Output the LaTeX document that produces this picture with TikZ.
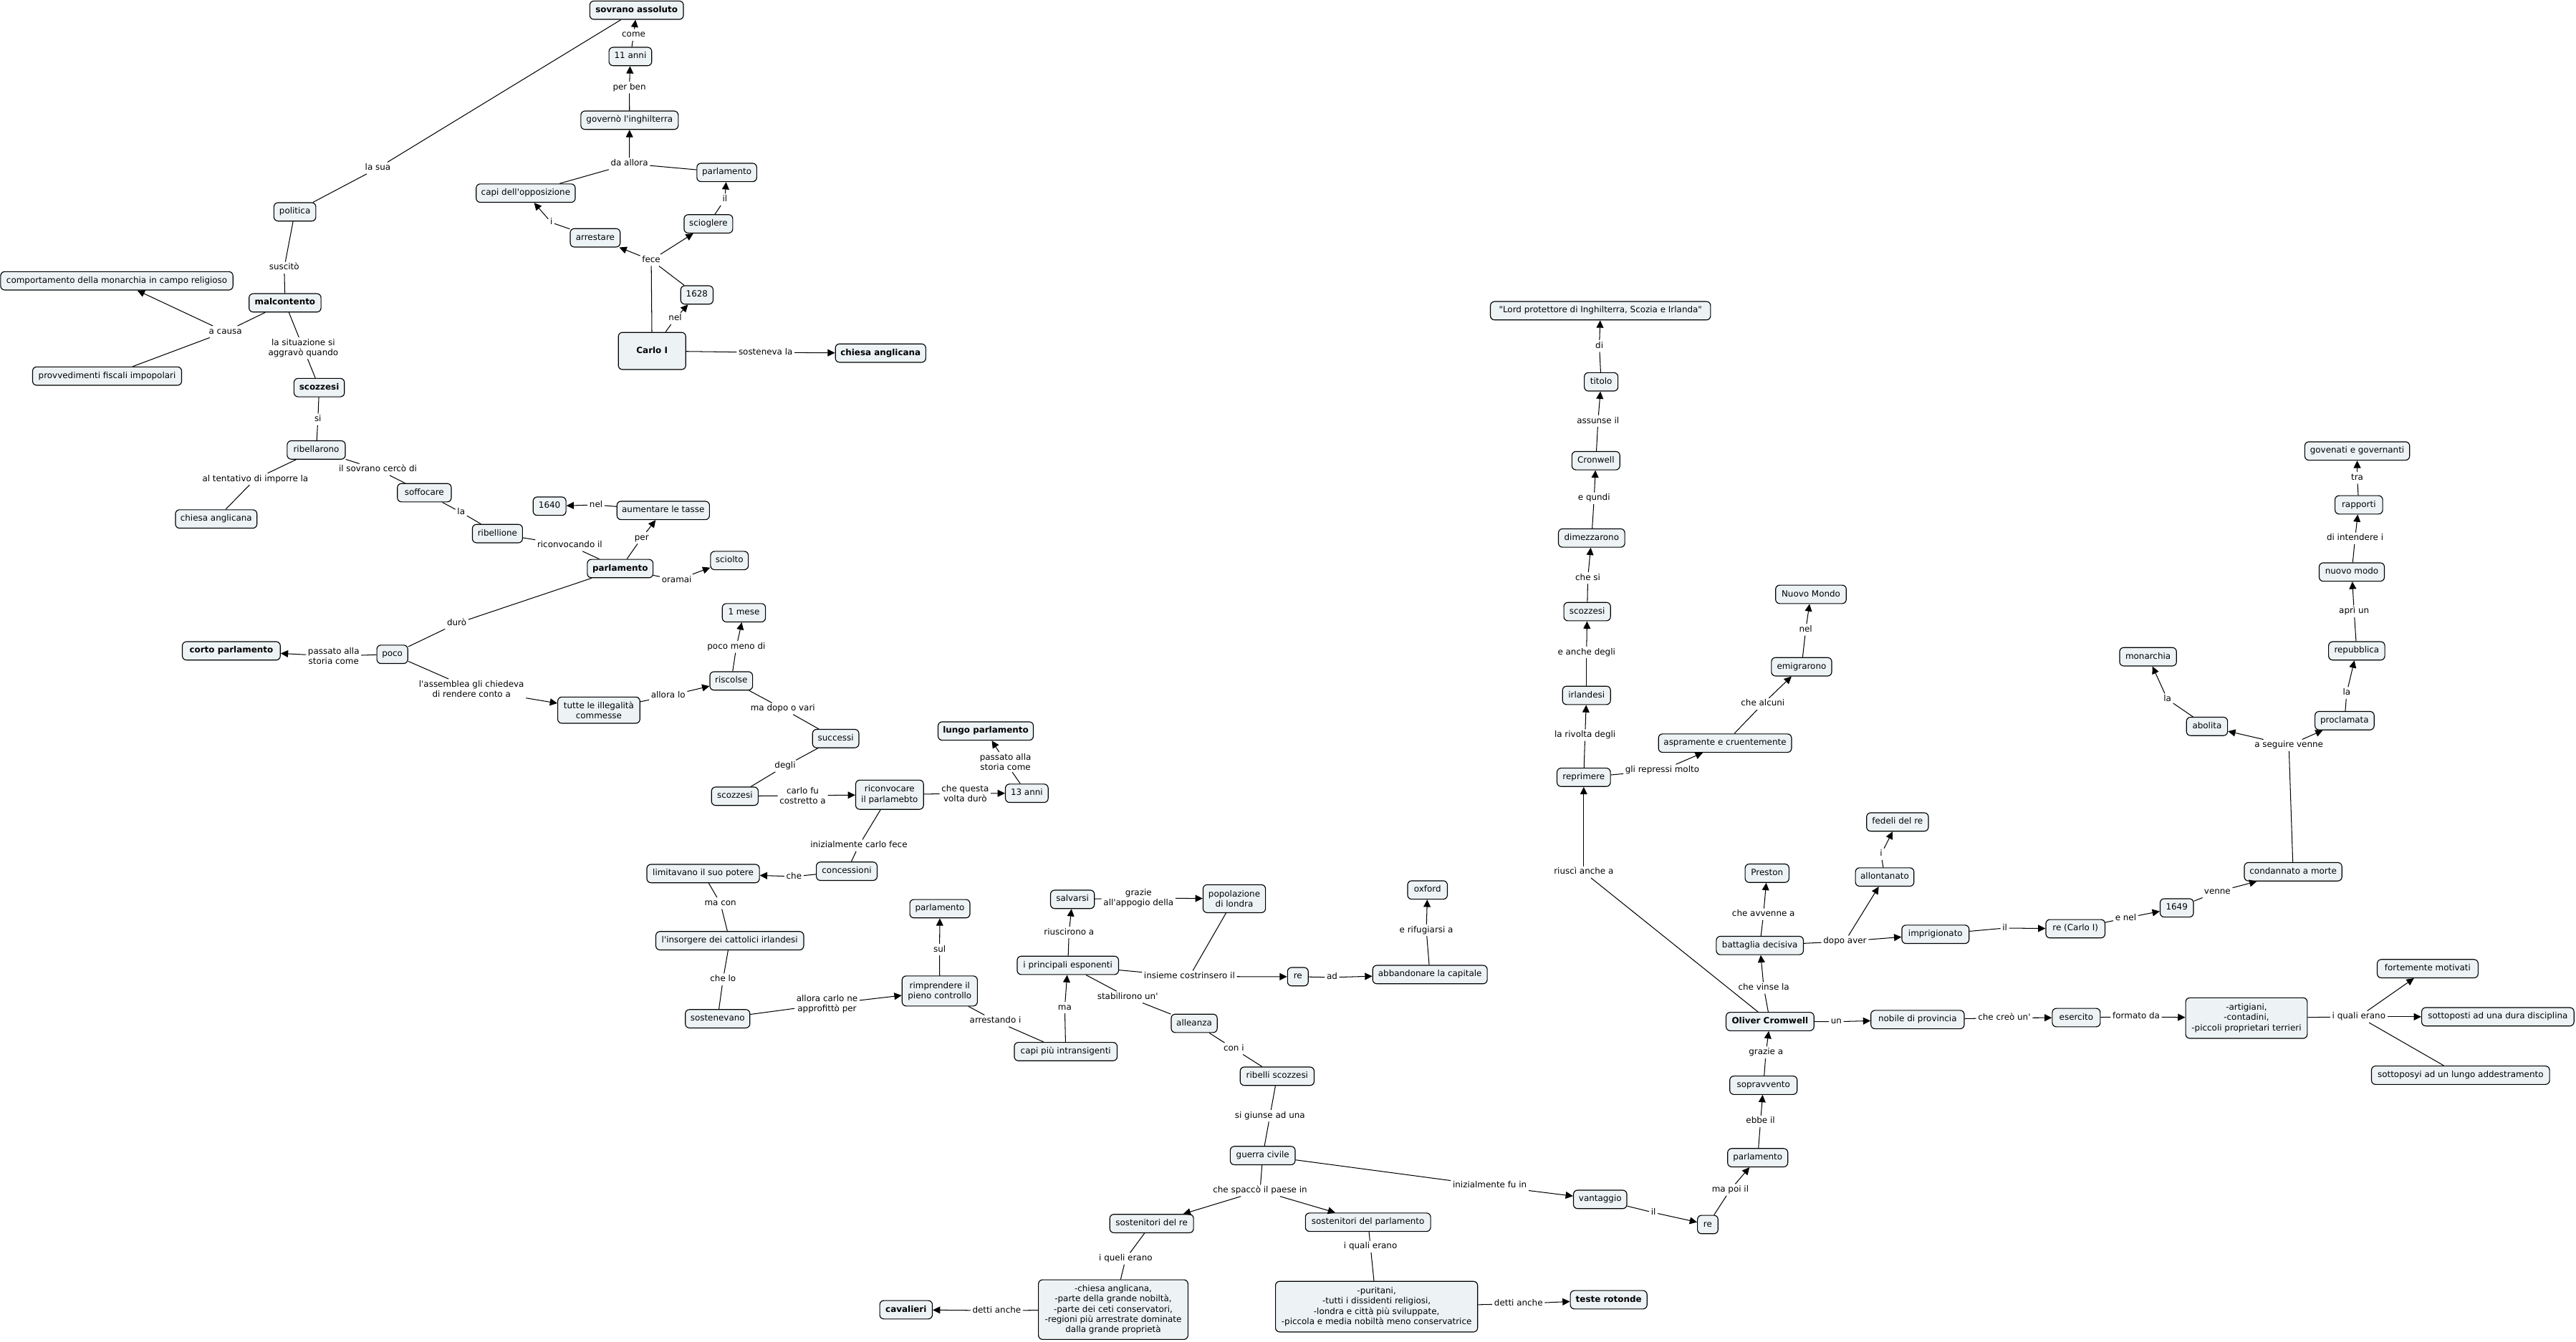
\documentclass[tikz,border=0pt]{standalone}
\usepackage{fontspec}
\setmainfont{DejaVu Sans}[Ligatures=TeXOff]
\usetikzlibrary{arrows.meta}
\definecolor{boxfill}{RGB}{237,243,245}
\tikzset{
  boxbase/.style={draw=black, line width=0.5pt, fill=boxfill, rounded corners=2.5pt,
    inner sep=0.5pt, align=center, minimum height=11.2pt, font=\fontsize{5.2}{6.2}\selectfont},
  cbox/.style={boxbase, text height=3.9pt, text depth=1.25pt},
  mbox/.style={boxbase},
  bbox/.style={cbox, font=\fontsize{5.2}{6.2}\selectfont\bfseries},
  lab/.style={inner xsep=1pt, inner ysep=0.8pt, align=center, text height=3.9pt, text depth=1.25pt, font=\fontsize{5.2}{6.2}\selectfont},
  mlab/.style={inner xsep=1pt, inner ysep=0.8pt, align=center, font=\fontsize{5.2}{6.2}\selectfont},
  mw/.style={minimum width=#1pt},
  mh/.style={minimum height=#1pt},
  link/.style={line width=0.45pt},
  arr/.style={line width=0.45pt, -{Triangle[length=4.5pt,width=4.3pt]}},
}
\begin{document}
\begin{tikzpicture}[x=1pt,y=-1pt]
\fill[white] (0,0) rectangle (1568,817);
\useasboundingbox (0,0) rectangle (1568,817);

% ---------- top cluster ----------
\node[bbox,mw=57] (sov) at (387.5,6.2) {sovrano assoluto};
\node[lab] (l_come) at (385.7,21.3) {come};
\node[cbox,mw=26] (anni11) at (383.7,34.4) {11 anni};
\node[lab] (l_perben) at (383.1,53.3) {per ben};
\node[cbox,mw=59.3] (gov) at (383.2,73.2) {governò l'inghilterra};
\node[lab] (l_daallora) at (383.1,99.7) {da allora};
\node[cbox,mw=36.4] (par1) at (442.4,105) {parlamento};
\node[cbox,mw=60.3] (capi1) at (320,117.6) {capi dell'opposizione};
\node[lab] (l_il1) at (441.2,121.5) {il};
\node[cbox,mw=29.6] (sciog) at (431.2,136.3) {scioglere};
\node[lab] (l_i1) at (335.6,135.5) {i};
\node[cbox,mw=30.4] (arrest) at (362.3,144.8) {arrestare};
\node[lab] (l_fece) at (396.4,158.4) {fece};
\node[cbox,mw=19.7] (y1628) at (424.2,179.6) {1628};
\node[lab] (l_nel1) at (411,193.9) {nel};
\node[bbox,mw=41,mh=22.6] (carlo) at (396.9,213.7) {Carlo I};
\node[lab] (l_sost) at (466,214.6) {sosteneva la};
\node[bbox,mw=55] (chiesaB) at (536,215) {chiesa anglicana};

% ---------- left cluster ----------
\node[cbox,mw=25.5] (pol) at (179.5,129) {politica};
\node[lab] (l_lasua) at (230,102.3) {la sua};
\node[lab] (l_suscito) at (173,163) {suscitò};
\node[bbox,mw=43.8] (malc) at (173.5,184.4) {malcontento};
\node[cbox,mw=141.4] (comp) at (71.1,171) {comportamento della monarchia in campo religioso};
\node[lab] (l_acausa) at (137.2,202) {a causa};
\node[cbox,mw=90.7] (provv) at (65.2,229) {provvedimenti fiscali impopolari};
\node[mlab] (l_situaz) at (184.6,212) {la situazione si\\aggravò quando};
\node[bbox,mw=30.7] (scoz1) at (194.3,236) {scozzesi};
\node[lab] (l_si) at (193.5,255.4) {si};
\node[cbox,mw=35.4] (ribel) at (192.5,274) {ribellarono};
\node[lab] (l_tent) at (155.4,291.7) {al tentativo di imporre la};
\node[lab] (l_sovr) at (230,285.9) {il sovrano cercò di};
\node[cbox,mw=49.6] (chiesa1) at (131.6,316) {chiesa anglicana};
\node[cbox,mw=32.8] (soff) at (258.3,300) {soffocare};
\node[lab] (l_la1) at (280.7,312) {la};
\node[cbox,mw=30.5] (ribellione) at (302.8,324.9) {ribellione};
\node[lab] (l_riconv) at (346.8,332.1) {riconvocando il};
\node[bbox,mw=40] (par2) at (377.5,346.2) {parlamento};
\node[lab] (l_per) at (390.6,327.5) {per};
\node[cbox,mw=56.3] (aum) at (403.7,310.8) {aumentare le tasse};
\node[lab] (l_nel2) at (362.8,307.4) {nel};
\node[cbox,mw=20] (y1640) at (334.5,308.2) {1640};
\node[lab] (l_oramai) at (411.9,353.2) {oramai};
\node[cbox,mw=23] (sciolto) at (444,341.3) {sciolto};
\node[lab] (l_duro) at (278,379.6) {durò};
\node[cbox,mw=18.8] (poco) at (238.8,398.4) {poco};
\node[mlab] (l_passato1) at (203.1,399.5) {passato alla\\storia come};
\node[bbox,mw=59.6] (corto) at (140.8,396.3) {corto parlamento};
\node[mlab] (l_assemblea) at (287,419.5) {l'assemblea gli chiedeva\\di rendere conto a};
\node[mbox,mw=50,mh=16] (tutte) at (364.5,432.4) {tutte le illegalità\\commesse};
\node[lab] (l_allora) at (406.7,423.8) {allora lo};
\node[cbox,mw=26] (riscolse) at (445.1,414.6) {riscolse};
\node[lab] (l_pocomeno) at (448.2,393.9) {poco meno di};
\node[cbox,mw=26.3] (mese) at (452.8,373.1) {1 mese};
\node[lab] (l_madopo) at (476.5,431.5) {ma dopo o vari};
\node[cbox,mw=28.2] (succ) at (508.7,449.7) {successi};
\node[lab] (l_degli) at (477.9,466.4) {degli};
\node[cbox,mw=28.4] (scoz2) at (447.3,484.8) {scozzesi};
\node[mlab] (l_carlofu) at (488.6,484.4) {carlo fu\\costretto a};
\node[mbox,mw=41.3,mh=17.8] (riconv) at (541.5,483.9) {riconvocare\\il parlamebto};
\node[mlab] (l_cheq) at (587.5,483.1) {che questa\\volta durò};
\node[cbox,mw=26] (anni13) at (625,483) {13 anni};
\node[mlab] (l_passato2) at (612,464) {passato alla\\storia come};
\node[bbox,mw=58] (lungo) at (600,445.1) {lungo parlamento};
\node[lab] (l_iniz) at (522.8,514.8) {inizialmente carlo fece};
\node[cbox,mw=37] (conc) at (515.4,530.5) {concessioni};
\node[lab] (l_che) at (483.3,533.7) {che};
\node[cbox,mw=68.5] (limit) at (428,531.9) {limitavano il suo potere};
\node[lab] (l_macon) at (438.5,550) {ma con};
\node[cbox,mw=90] (insorg) at (444.2,572.8) {l'insorgere dei cattolici irlandesi};
\node[lab] (l_chelo) at (440.1,596.3) {che lo};
\node[cbox,mw=39.3] (sosten) at (436.8,620.3) {sostenevano};
\node[mlab] (l_approf) at (503.4,611.4) {allora carlo ne\\approfittò per};
\node[mbox,mw=45.8,mh=18.3] (rimpr) at (572,603.4) {rimprendere il\\pieno controllo};
\node[lab] (l_sul) at (571.9,578.2) {sul};
\node[cbox,mw=36.6] (par3) at (572.1,553.3) {parlamento};
\node[lab] (l_arrestando) at (605.9,621.6) {arrestando i};
\node[cbox,mw=62.6] (capi2) at (648.7,640.3) {capi più intransigenti};
\node[lab] (l_ma) at (648.1,613.5) {ma};
\node[cbox,mw=61.7] (princ) at (650,587.8) {i principali esponenti};
\node[lab] (l_riusc) at (650.7,567.8) {riuscirono a};
\node[cbox,mw=26.7] (salv) at (652.8,547.6) {salvarsi};
\node[mlab] (l_grazie) at (693,546.8) {grazie\\all'appogio della};
\node[mbox,mw=38,mh=17] (popol) at (751.3,547.2) {popolazione\\di londra};
\node[lab] (l_insieme) at (724,594.6) {insieme costrinsero il};
\node[cbox,mw=12.6] (re1) at (790,594.7) {re};
\node[lab] (l_ad) at (810.8,595.1) {ad};
\node[cbox,mw=69.7] (abband) at (870.4,593.4) {abbandonare la capitale};
\node[lab] (l_rifug) at (868.2,566.4) {e rifugiarsi a};
\node[cbox,mw=24.2] (oxford) at (868.9,541.9) {oxford};
\node[lab] (l_stabil) at (686.4,607.1) {stabilirono un'};
\node[cbox,mw=28] (all) at (726.9,623.1) {alleanza};
\node[lab] (l_coni) at (751,638.5) {con i};
\node[cbox,mw=45] (ribsc) at (777.4,655.3) {ribelli scozzesi};
\node[lab] (l_giunse) at (773,679.4) {si giunse ad una};
\node[cbox,mw=39.5] (guerra) at (768.6,703.6) {guerra civile};
\node[lab] (l_spacco) at (767,724.9) {che spaccò il paese in};
\node[cbox,mw=51] (sre) at (701,745) {sostenitori del re};
\node[cbox,mw=76.2] (spar) at (832.7,744.2) {sostenitori del parlamento};
\node[lab] (l_queli) at (685.2,766.4) {i queli erano};
\node[mbox,mw=91,mh=36.3] (listre) at (677.6,797.4) {-chiesa anglicana,\\-parte della grande nobiltà,\\-parte dei ceti conservatori,\\-regioni più arrestrate dominate\\dalla grande proprietà};
\node[lab] (l_detti1) at (606.7,798) {detti anche};
\node[bbox,mw=32] (cav) at (551.5,797.5) {cavalieri};
\node[lab] (l_quali1) at (834.2,759.1) {i quali erano};
\node[mbox,mw=123,mh=30.8] (listpar) at (837.9,795.6) {-puritani,\\-tutti i dissidenti religiosi,\\-londra e città più sviluppate,\\-piccola e media nobiltà meno conservatrice};
\node[lab] (l_detti2) at (924.3,793.9) {detti anche};
\node[bbox,mw=46.7] (teste) at (979.2,791.4) {teste rotonde};
\node[lab] (l_inizfu) at (906.8,722) {inizialmente fu in};
\node[cbox,mw=32.5] (vant) at (974,730.3) {vantaggio};
\node[lab] (l_il2) at (1006.4,738.3) {il};
\node[cbox,mw=12.5] (re2) at (1039.5,745.6) {re};
\node[lab] (l_mapoi) at (1053.2,724.5) {ma poi il};
\node[cbox,mw=36.6] (par4) at (1069.9,704.9) {parlamento};
\node[lab] (l_ebbe) at (1071.6,682.8) {ebbe il};
\node[cbox,mw=41] (sopr) at (1073.4,660.8) {sopravvento};
\node[lab] (l_grazie2) at (1074.9,640.8) {grazie a};
\node[bbox,mw=53.5] (oliver) at (1077.4,622) {Oliver Cromwell};
\node[lab] (l_vinse) at (1073.6,601.5) {che vinse la};
\node[cbox,mw=53] (batt) at (1071.2,575.7) {battaglia decisiva};
\node[lab] (l_avvenne) at (1073.4,556.7) {che avvenne a};
\node[cbox,mw=26.7] (preston) at (1075.6,531.7) {Preston};
\node[lab] (l_dopo) at (1123,573.2) {dopo aver};
\node[cbox,mw=40.9] (impr) at (1178.1,568.9) {imprigionato};
\node[lab] (l_il3) at (1220.3,565.1) {il};
\node[cbox,mw=36] (reC) at (1263.3,565.5) {re (Carlo I)};
\node[lab] (l_enel) at (1293.9,559) {e nel};
\node[cbox,mw=20.3] (y1649) at (1325,552.8) {1649};
\node[lab] (l_venne) at (1349.7,543) {venne};
\node[cbox,mw=59.4] (cond) at (1395.8,530.8) {condannato a morte};
\node[lab] (l_seguire) at (1393.2,453.8) {a seguire venne};
\node[cbox,mw=25] (abol) at (1343.4,442.3) {abolita};
\node[lab] (l_la2) at (1319.3,425.8) {la};
\node[cbox,mw=34.6] (mon) at (1307.5,399.9) {monarchia};
\node[cbox,mw=36] (procl) at (1427.1,438.8) {proclamata};
\node[lab] (l_la3) at (1428.4,421.9) {la};
\node[cbox,mw=34.2] (rep) at (1434.5,396.3) {repubblica};
\node[lab] (l_apri) at (1432.9,372.2) {aprì un};
\node[cbox,mw=39.7] (nuovo) at (1431.5,348.3) {nuovo modo};
\node[lab] (l_intend) at (1433.5,327.8) {di intendere i};
\node[cbox,mw=29] (rapp) at (1435.8,307.4) {rapporti};
\node[lab] (l_tra) at (1434.8,290.9) {tra};
\node[cbox,mw=63.8] (gov2) at (1434.8,274.6) {govenati e governanti};
\node[cbox,mw=35.6] (allont) at (1147.2,534) {allontanato};
\node[lab] (l_i2) at (1145,520.1) {i};
\node[cbox,mw=37.6] (fedeli) at (1155,500.5) {fedeli del re};
\node[lab] (l_un) at (1117.7,622.1) {un};
\node[cbox,mw=56.8] (nob) at (1167.2,620.8) {nobile di provincia};
\node[lab] (l_creo) at (1220,619.8) {che creò un'};
\node[cbox,mw=29.2] (eserc) at (1263.8,619.6) {esercito};
\node[lab] (l_formato) at (1300.3,619.1) {formato da};
\node[mbox,mw=74,mh=24.7] (artig) at (1367.4,619.9) {-artigiani,\\-contadini,\\-piccoli proprietari terrieri};
\node[lab] (l_quali2) at (1435.8,619.1) {i quali erano};
\node[cbox,mw=61.4] (fort) at (1477.7,589.8) {fortemente motivati};
\node[cbox,mw=92.7] (dura) at (1520.4,619.1) {sottoposti ad una dura disciplina};
\node[cbox,mw=108.4] (lungoadd) at (1497.7,654.7) {sottoposyi ad un lungo addestramento};
\node[lab] (l_riusci) at (964,531) {riuscì anche a};
\node[cbox,mw=32.5] (repr) at (964,473.3) {reprimere};
\node[lab] (l_rivolta) at (964.8,447.6) {la rivolta degli};
\node[cbox,mw=29.2] (irl) at (965.7,423.4) {irlandesi};
\node[lab] (l_eanche) at (965.7,397.3) {e anche degli};
\node[cbox,mw=28.4] (scoz3) at (966.1,372.4) {scozzesi};
\node[lab] (l_chesi) at (966.5,351.9) {che si};
\node[cbox,mw=40.4] (dimezz) at (968.8,327.6) {dimezzarono};
\node[lab] (l_qundi) at (970.3,303.4) {e qundi};
\node[cbox,mw=29.2] (cronw) at (971.4,280.5) {Cronwell};
\node[lab] (l_assunse) at (972.7,256.4) {assunse il};
\node[cbox,mw=20.5] (titolo) at (974.6,232.5) {titolo};
\node[lab] (l_di) at (973.5,210.7) {di};
\node[cbox,mw=134] (lord) at (974.2,189.2) {"Lord protettore di Inghilterra, Scozia e Irlanda"};
\node[lab] (l_repressi) at (1011.8,469) {gli repressi molto};
\node[cbox,mw=81] (aspr) at (1050,452.5) {aspramente e cruentemente};
\node[lab] (l_alcuni) at (1073,428.6) {che alcuni};
\node[cbox,mw=36.7] (emigr) at (1096.6,406) {emigrarono};
\node[lab] (l_nel3) at (1099.1,383.5) {nel};
\node[cbox,mw=43] (nuovom) at (1102.3,361.9) {Nuovo Mondo};

% ---------- connections ----------
\draw[link] (anni11) -- (l_come); \draw[arr] (l_come) -- (sov);
\draw[link] (gov) -- (l_perben); \draw[arr] (l_perben) -- (anni11);
\draw[link] (capi1) -- (l_daallora); \draw[link] (par1) -- (l_daallora); \draw[arr] (l_daallora) -- (gov);
\draw[link] (sciog) -- (l_il1); \draw[arr] (l_il1) -- (par1);
\draw[link] (arrest) -- (l_i1); \draw[arr] (l_i1) -- (capi1);
\draw[link] (carlo) -- (l_fece); \draw[link] (y1628) -- (l_fece);
\draw[arr] (l_fece) -- (arrest); \draw[arr] (l_fece) -- (sciog);
\draw[link] (carlo) -- (l_nel1); \draw[arr] (l_nel1) -- (y1628);
\draw[link] (carlo) -- (l_sost); \draw[arr] (l_sost) -- (chiesaB);

\draw[link] (pol) -- (l_lasua); \draw[link] (l_lasua) -- (sov);
\draw[link] (pol) -- (l_suscito); \draw[link] (l_suscito) -- (malc);
\draw[link] (malc) -- (l_acausa); \draw[arr] (l_acausa) -- (comp); \draw[link] (l_acausa) -- (provv);
\draw[link] (malc) -- (l_situaz); \draw[link] (l_situaz) -- (scoz1);
\draw[link] (scoz1) -- (l_si); \draw[link] (l_si) -- (ribel);
\draw[link] (ribel) -- (l_tent); \draw[link] (l_tent) -- (chiesa1);
\draw[link] (ribel) -- (l_sovr); \draw[link] (l_sovr) -- (soff);
\draw[link] (soff) -- (l_la1); \draw[link] (l_la1) -- (ribellione);
\draw[link] (ribellione) -- (l_riconv); \draw[link] (l_riconv) -- (par2);
\draw[link] (par2) -- (l_per); \draw[arr] (l_per) -- (aum);
\draw[link] (aum) -- (l_nel2); \draw[arr] (l_nel2) -- (y1640);
\draw[link] (par2) -- (l_oramai); \draw[arr] (l_oramai) -- (sciolto);
\draw[link] (par2) -- (l_duro); \draw[link] (l_duro) -- (poco);
\draw[link] (poco) -- (l_passato1); \draw[arr] (l_passato1) -- (corto);
\draw[link] (poco) -- (l_assemblea); \draw[arr] (l_assemblea) -- (tutte);
\draw[link] (tutte) -- (l_allora); \draw[arr] (l_allora) -- (riscolse);
\draw[link] (riscolse) -- (l_pocomeno); \draw[arr] (l_pocomeno) -- (mese);
\draw[link] (riscolse) -- (l_madopo); \draw[link] (l_madopo) -- (succ);
\draw[link] (succ) -- (l_degli); \draw[link] (l_degli) -- (scoz2);
\draw[link] (scoz2) -- (l_carlofu); \draw[arr] (l_carlofu) -- (riconv);
\draw[link] (riconv) -- (l_cheq); \draw[arr] (l_cheq) -- (anni13);
\draw[link] (anni13) -- (l_passato2); \draw[arr] (l_passato2) -- (lungo);
\draw[link] (riconv) -- (l_iniz); \draw[link] (l_iniz) -- (conc);
\draw[link] (conc) -- (l_che); \draw[arr] (l_che) -- (limit);
\draw[link] (limit) -- (l_macon); \draw[link] (l_macon) -- (insorg);
\draw[link] (insorg) -- (l_chelo); \draw[link] (l_chelo) -- (sosten);
\draw[link] (sosten) -- (l_approf); \draw[arr] (l_approf) -- (rimpr);
\draw[link] (rimpr) -- (l_sul); \draw[arr] (l_sul) -- (par3);
\draw[link] (rimpr) -- (l_arrestando); \draw[link] (l_arrestando) -- (capi2);
\draw[link] (capi2) -- (l_ma); \draw[arr] (l_ma) -- (princ);
\draw[link] (princ) -- (l_riusc); \draw[arr] (l_riusc) -- (salv);
\draw[link] (salv) -- (l_grazie); \draw[arr] (l_grazie) -- (popol);
\draw[link] (princ) -- (l_insieme); \draw[link] (popol) -- (l_insieme); \draw[arr] (l_insieme) -- (re1);
\draw[link] (re1) -- (l_ad); \draw[arr] (l_ad) -- (abband);
\draw[link] (abband) -- (l_rifug); \draw[arr] (l_rifug) -- (oxford);
\draw[link] (princ) -- (l_stabil); \draw[link] (l_stabil) -- (all);
\draw[link] (all) -- (l_coni); \draw[link] (l_coni) -- (ribsc);
\draw[link] (ribsc) -- (l_giunse); \draw[link] (l_giunse) -- (guerra);
\draw[link] (guerra) -- (l_spacco); \draw[arr] (l_spacco) -- (sre); \draw[arr] (l_spacco) -- (spar);
\draw[link] (sre) -- (l_queli); \draw[link] (l_queli) -- (listre);
\draw[link] (listre) -- (l_detti1); \draw[arr] (l_detti1) -- (cav);
\draw[link] (spar) -- (l_quali1); \draw[link] (l_quali1) -- (listpar);
\draw[link] (listpar) -- (l_detti2); \draw[arr] (l_detti2) -- (teste);
\draw[link] (guerra) -- (l_inizfu); \draw[arr] (l_inizfu) -- (vant);
\draw[link] (vant) -- (l_il2); \draw[arr] (l_il2) -- (re2);
\draw[link] (re2) -- (l_mapoi); \draw[arr] (l_mapoi) -- (par4);
\draw[link] (par4) -- (l_ebbe); \draw[arr] (l_ebbe) -- (sopr);
\draw[link] (sopr) -- (l_grazie2); \draw[arr] (l_grazie2) -- (oliver);
\draw[link] (oliver) -- (l_vinse); \draw[arr] (l_vinse) -- (batt);
\draw[link] (batt) -- (l_avvenne); \draw[arr] (l_avvenne) -- (preston);
\draw[link] (batt) -- (l_dopo); \draw[arr] (l_dopo) -- (impr); \draw[arr] (l_dopo) -- (allont);
\draw[link] (allont) -- (l_i2); \draw[arr] (l_i2) -- (fedeli);
\draw[link] (impr) -- (l_il3); \draw[arr] (l_il3) -- (reC);
\draw[link] (reC) -- (l_enel); \draw[arr] (l_enel) -- (y1649);
\draw[link] (y1649) -- (l_venne); \draw[arr] (l_venne) -- (cond);
\draw[link] (cond) -- (l_seguire); \draw[arr] (l_seguire) -- (abol); \draw[arr] (l_seguire) -- (procl);
\draw[link] (abol) -- (l_la2); \draw[arr] (l_la2) -- (mon);
\draw[link] (procl) -- (l_la3); \draw[arr] (l_la3) -- (rep);
\draw[link] (rep) -- (l_apri); \draw[arr] (l_apri) -- (nuovo);
\draw[link] (nuovo) -- (l_intend); \draw[arr] (l_intend) -- (rapp);
\draw[link] (rapp) -- (l_tra); \draw[arr] (l_tra) -- (gov2);
\draw[link] (oliver) -- (l_un); \draw[arr] (l_un) -- (nob);
\draw[link] (nob) -- (l_creo); \draw[arr] (l_creo) -- (eserc);
\draw[link] (eserc) -- (l_formato); \draw[arr] (l_formato) -- (artig);
\draw[link] (artig) -- (l_quali2); \draw[arr] (l_quali2) -- (fort); \draw[arr] (l_quali2) -- (dura); \draw[link] (l_quali2) -- (lungoadd);
\draw[link] (oliver) -- (l_riusci); \draw[arr] (l_riusci) -- (repr);
\draw[link] (repr) -- (l_rivolta); \draw[arr] (l_rivolta) -- (irl);
\draw[link] (irl) -- (l_eanche); \draw[arr] (l_eanche) -- (scoz3);
\draw[link] (scoz3) -- (l_chesi); \draw[arr] (l_chesi) -- (dimezz);
\draw[link] (dimezz) -- (l_qundi); \draw[arr] (l_qundi) -- (cronw);
\draw[link] (cronw) -- (l_assunse); \draw[arr] (l_assunse) -- (titolo);
\draw[link] (titolo) -- (l_di); \draw[arr] (l_di) -- (lord);
\draw[link] (repr) -- (l_repressi); \draw[arr] (l_repressi) -- (aspr);
\draw[link] (aspr) -- (l_alcuni); \draw[arr] (l_alcuni) -- (emigr);
\draw[link] (emigr) -- (l_nel3); \draw[arr] (l_nel3) -- (nuovom);
\end{tikzpicture}
\end{document}
